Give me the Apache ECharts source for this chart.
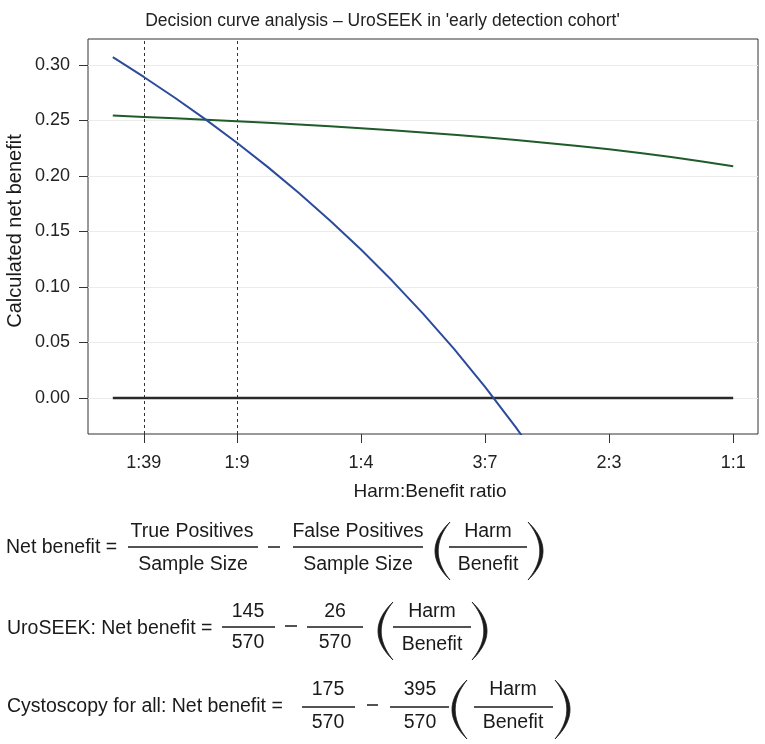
<!DOCTYPE html>
<html><head><meta charset="utf-8">
<script src="https://cdn.jsdelivr.net/npm/echarts@6/dist/echarts.min.js"></script>
<style>html,body{margin:0;padding:0;background:#fff}#c{width:765px;height:744px}</style>
</head><body><div id="c"></div>
<script>
// Threshold probabilities (x) and net benefit values
const thresholds = [0, 0.025, 0.05, 0.075, 0.1, 0.125, 0.15, 0.175, 0.2, 0.225, 0.25, 0.275, 0.3, 0.325, 0.35, 0.375, 0.4, 0.425, 0.45, 0.475, 0.5];
const uroseekNB = [0.2544, 0.2532, 0.2520, 0.2507, 0.2493, 0.2479, 0.2463, 0.2447, 0.2430, 0.2411, 0.2392, 0.2371, 0.2348, 0.2324, 0.2298, 0.2270, 0.2240, 0.2207, 0.2171, 0.2131, 0.2088];
const cystoscopyNB = [0.3070, 0.2892, 0.2705, 0.2508, 0.2300, 0.2080, 0.1847, 0.1600, 0.1338, 0.1058, 0.0760, 0.0442, 0.0100, -0.0266, -0.0661];
const treatNoneNB = [0, 0];
const treatNoneX = [0, 0.5];
const xTickValues = [0.025, 0.1, 0.2, 0.3, 0.4, 0.5];
const xTickLabels = ['1:39', '1:9', '1:4', '3:7', '2:3', '1:1'];
const yTickValues = [0, 0.05, 0.10, 0.15, 0.20, 0.25, 0.30];
const dashedThresholds = [0.025, 0.1];

const FONT = '"Liberation Sans", Arial, Helvetica, sans-serif';
const INK = '#1a1a1a';

function pairs(xs, ys) { return ys.map((y, i) => [xs[i], y]); }

function txt(s, x, y, align, size, rot) {
  const el = {type: 'text', x: x, y: y, silent: true,
    style: {text: s, font: (size || 19.5) + 'px ' + FONT, fill: INK,
      align: align || 'center', verticalAlign: 'middle',
      textAlign: align || 'center', textVerticalAlign: 'middle'}};
  if (rot) el.rotation = rot;
  return el;
}
function hbar(x1, x2, y, w) {
  return {type: 'line', silent: true, shape: {x1: x1, y1: y, x2: x2, y2: y}, style: {stroke: INK, lineWidth: w || 1.5}};
}
// big bracket glyph outline: tapered crescent between two quadratic arcs
function paren(side, x0, x1, y0, y1) {
  const w = 3.2, mid = (y0 + y1) / 2, n = 24;
  const tip = side === '(' ? x1 : x0;
  const outer = side === '(' ? 2 * x0 - x1 : 2 * x1 - x0;
  const inner = side === '(' ? 2 * (x0 + w) - x1 : 2 * (x1 - w) - x0;
  const q = (t, c) => [(1 - t) * (1 - t) * tip + 2 * (1 - t) * t * c + t * t * tip, (1 - t) * (1 - t) * y0 + 2 * (1 - t) * t * mid + t * t * y1];
  const pts = [];
  for (let i = 0; i <= n; i++) pts.push(q(i / n, outer));
  for (let i = n; i >= 0; i--) pts.push(q(i / n, inner));
  return {type: 'polygon', silent: true, shape: {points: pts}, style: {fill: INK, stroke: INK, lineWidth: 0.8}};
}

const graphics = [
  // axis names
  txt('Harm:Benefit ratio', 430, 492, 'center', 19),
  txt('Calculated net benefit', 15, 231, 'center', 20, Math.PI / 2),
  // Row 1
  txt('Net benefit =', 6, 548, 'left'),
  txt('True Positives', 192, 532), hbar(128, 258, 547), txt('Sample Size', 193, 565),
  hbar(268, 280, 547),
  txt('False Positives', 358, 532), hbar(293, 423, 547), txt('Sample Size', 358, 565),
  paren('(', 435, 450, 522, 580), txt('Harm', 488, 532), hbar(449, 527, 547), txt('Benefit', 488, 565), paren(')', 528, 543, 522, 580),
  // Row 2
  txt('UroSEEK: Net benefit =', 7, 629, 'left'),
  txt('145', 248, 612), hbar(222, 275, 627), txt('570', 248, 643),
  hbar(285, 297, 626),
  txt('26', 335, 612), hbar(307, 363, 627), txt('570', 335, 643),
  paren('(', 378, 393, 602, 660), txt('Harm', 432, 612), hbar(393, 471, 627), txt('Benefit', 432, 645), paren(')', 472, 487, 602, 660),
  // Row 3
  txt('Cystoscopy for all: Net benefit =', 7, 707, 'left'),
  txt('175', 328, 690), hbar(302, 355, 707), txt('570', 328, 723),
  hbar(367, 378, 705),
  txt('395', 420, 690), hbar(390, 449, 707), txt('570', 420, 723),
  paren('(', 452, 467, 680, 739), txt('Harm', 513, 690), hbar(474, 553, 707), txt('Benefit', 513, 723), paren(')', 555, 570, 680, 739)
];

function xLabel(v) {
  const i = xTickValues.findIndex(t => Math.abs(t - v) < 1e-9);
  return i >= 0 ? xTickLabels[i] : '';
}

const chart = echarts.init(document.getElementById('c'), null, {renderer: 'canvas'});
chart.setOption({
  animation: false,
  backgroundColor: '#fff',
  title: {text: "Decision curve analysis \u2013 UroSEEK in 'early detection cohort'", left: 'center', top: 7,
    textStyle: {fontFamily: FONT, fontSize: 17.5, fontWeight: 'normal', color: '#222'}},
  grid: {left: 88, top: 39, width: 670, height: 395, show: true, borderColor: '#333', borderWidth: 1, backgroundColor: 'transparent'},
  xAxis: {type: 'value', min: -0.02, max: 0.52, position: 'bottom',
    axisLine: {show: false, onZero: false}, splitLine: {show: false},
    axisTick: {show: true, inside: false, customValues: xTickValues, length: 9, lineStyle: {color: '#333', width: 1}},
    axisLabel: {customValues: xTickValues, formatter: xLabel, margin: 20, fontSize: 18, fontFamily: FONT, color: '#222'}},
  yAxis: {type: 'value', min: -0.0324, max: 0.3234, position: 'left',
    axisLine: {show: false, onZero: false}, splitLine: {show: false},
    axisTick: {show: true, inside: false, customValues: yTickValues, length: 9, lineStyle: {color: '#333', width: 1}},
    axisLabel: {customValues: yTickValues, formatter: v => v.toFixed(2), margin: 18, fontSize: 18, fontFamily: FONT, color: '#222'}},
  series: [
    {type: 'line', name: 'Treat none', data: pairs(treatNoneX, treatNoneNB), showSymbol: false, z: 3,
      lineStyle: {color: '#2a2a2a', width: 2.5},
      markLine: {silent: true, symbol: 'none', z: 1, precision: 4, animation: false, label: {show: false},
        lineStyle: {color: '#ebebeb', width: 1, type: 'solid'},
        data: yTickValues.map(v => ({yAxis: v}))}},
    {type: 'line', name: 'UroSEEK', data: pairs(thresholds, uroseekNB), showSymbol: false, z: 4,
      lineStyle: {color: '#1e5c2a', width: 2},
      markLine: {silent: true, symbol: 'none', z: 2, precision: 4, animation: false, label: {show: false},
        lineStyle: {color: '#333', width: 1, type: [3, 3]},
        data: dashedThresholds.map(v => ({xAxis: v}))}},
    {type: 'line', name: 'Cystoscopy for all', data: pairs(thresholds, cystoscopyNB), showSymbol: false, z: 5,
      lineStyle: {color: '#2c4b9b', width: 2}}
  ],
  graphic: graphics
});
</script></body></html>
